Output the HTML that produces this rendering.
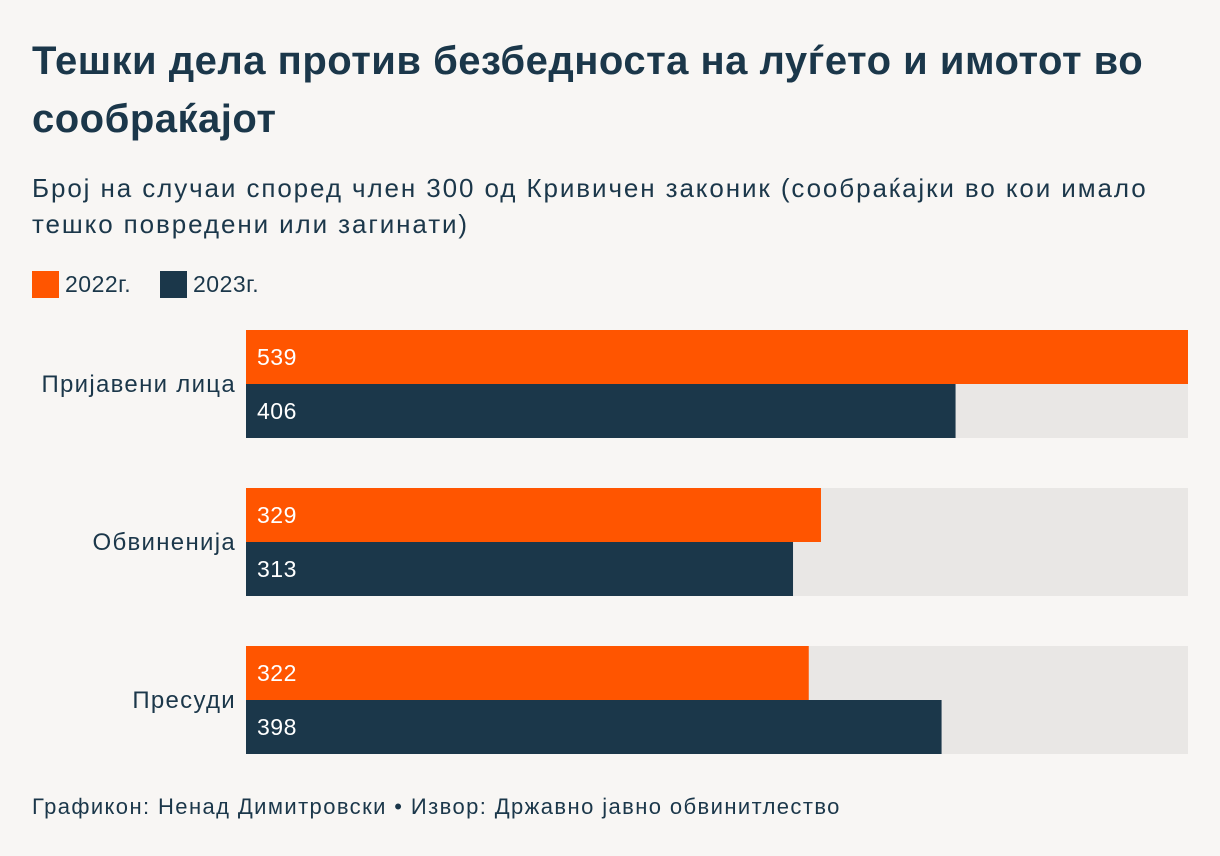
<!DOCTYPE html>
<html><head><meta charset="utf-8"><style>
body{margin:0;width:1220px;height:856px;background:#f8f6f4;font-family:"Liberation Sans","DejaVu Sans",sans-serif;color:#1b374a;overflow:hidden;position:relative}
.t{position:absolute;left:32px;top:32px;font-size:40px;font-weight:bold;line-height:58px;width:1180px;letter-spacing:0.5px;white-space:nowrap}
.s{position:absolute;left:32px;top:170px;font-size:26px;line-height:36px;width:1180px;letter-spacing:1.9px;white-space:nowrap}
.lg{position:absolute;top:271px;font-size:23px;display:flex;align-items:center;letter-spacing:0.5px}
.sw{width:27px;height:27px;margin-right:6px}
.f{position:absolute;left:32px;top:794px;font-size:22px;letter-spacing:1.4px;white-space:nowrap}
</style></head><body>
<div class="t">Тешки дела против безбедноста на луѓето и имотот во<br>сообраќајот</div>
<div class="s">Број на случаи според член 300 од Кривичен законик (сообраќајки во кои имало<br>тешко повредени или загинати)</div>
<div class="lg" style="left:32px"><div class="sw" style="background:#ff5500"></div>2022г.</div>
<div class="lg" style="left:160px"><div class="sw" style="background:#1b374a"></div>2023г.</div>
<svg id="c" width="1220" height="856" style="position:absolute;left:0;top:0"></svg>
<div class="f">Графикон: Ненад Димитровски • Извор: Државно јавно обвинитлество</div>
<script>
const categories=["Пријавени лица","Обвиненија","Пресуди"];
const values2022=[539,329,322];
const values2023=[406,313,398];
const maxValue=539;
const svg=document.getElementById('c');
const NS='http://www.w3.org/2000/svg';
const x0=246,W=942;
const xs=v=>v/maxValue*W;
function mk(t,a){const e=document.createElementNS(NS,t);for(const k in a)e.setAttribute(k,a[k]);svg.appendChild(e);return e;}
categories.forEach((c,i)=>{
  const y=330+i*158;
  const bg=mk('rect',{x:x0,y:y,width:W,height:108,fill:'#e9e7e5'});
  
  
  [[values2022[i],'#ff5500','2022'],[values2023[i],'#1b374a','2023']].forEach(([v,col,yr],j)=>{
    const r=mk('rect',{x:x0,y:y+j*54,width:xs(v),height:54,fill:col});
    
    
    const t=mk('text',{x:x0+11,y:y+j*54+35,fill:'#fff','font-size':23,'letter-spacing':0.5});
    t.textContent=v;
    
    
  });
  const l=mk('text',{x:236,y:y+62,'text-anchor':'end',fill:'#1b374a','font-size':24,'letter-spacing':1.3});
  l.textContent=c;
  
  
});
</script>
</body></html>
